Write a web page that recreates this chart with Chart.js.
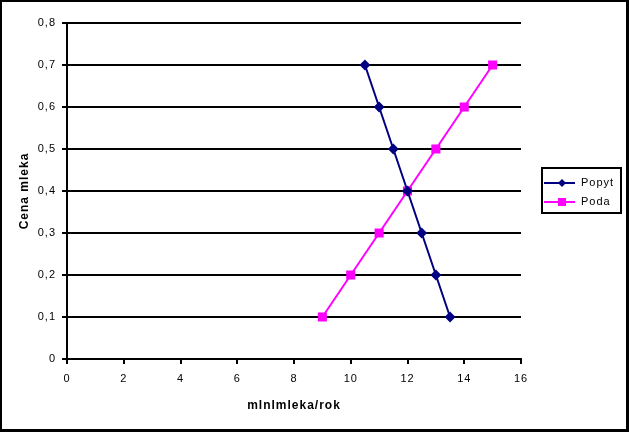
<!DOCTYPE html>
<html>
<head>
<meta charset="utf-8">
<script src="https://cdn.jsdelivr.net/npm/chart.js@4.4.0/dist/chart.umd.min.js"></script>
<style>
  html, body { margin: 0; padding: 0; background: #fff; }
  #wrap { width: 629px; height: 432px; position: relative; }
</style>
</head>
<body>
<div id="wrap"><canvas id="chart" width="629" height="432"></canvas></div>
<script>
// Data
const popytX = [10.5, 11, 11.5, 12, 12.5, 13, 13.5];
const popytY = [0.7, 0.6, 0.5, 0.4, 0.3, 0.2, 0.1];
const podaX = [9, 10, 11, 12, 13, 14, 15];
const podaY = [0.1, 0.2, 0.3, 0.4, 0.5, 0.6, 0.7];
const seriesNames = ['Popyt', 'Poda'];
const xTitle = 'mlnlmleka/rok';
const yTitle = 'Cena mleka';

const NAVY = '#000080';
const MAGENTA = '#FF00FF';
const FONT = 'Liberation Sans, Arial, sans-serif';

const toPoints = (xs, ys) => xs.map((x, i) => ({ x: x, y: ys[i] }));

// Excel text is a bit wider spaced
const spacing = {
    id: 'spacing',
    beforeDraw(chart) {
        chart.ctx.letterSpacing = '1px';
    }
};

// Frame + legend box, Excel style
const excelFrame = {
    id: 'excelFrame',
    afterDraw(chart) {
        const ctx = chart.ctx;
        const w = chart.width, h = chart.height;
        ctx.save();
        ctx.fillStyle = '#000';
        ctx.fillRect(0, 0, w, 2);
        ctx.fillRect(0, 0, 2, h);
        ctx.fillRect(w - 3, 0, 3, h);
        ctx.fillRect(0, h - 3, w, 3);

        // legend
        const lx = 542, ly = 168, lw = 79, lh = 45;
        ctx.lineWidth = 2;
        ctx.strokeStyle = '#000';
        ctx.strokeRect(lx, ly, lw, lh);
        const colors = [NAVY, MAGENTA];
        ctx.font = '11px ' + FONT;
        ctx.letterSpacing = '1px';
        ctx.textBaseline = 'middle';
        seriesNames.forEach((name, i) => {
            const y = ly + 15 + i * 19;
            ctx.strokeStyle = colors[i];
            ctx.lineWidth = 2;
            ctx.beginPath();
            ctx.moveTo(lx + 2, y);
            ctx.lineTo(lx + 33, y);
            ctx.stroke();
            ctx.fillStyle = colors[i];
            const cx = lx + 20;
            if (i === 0) {
                ctx.beginPath();
                ctx.moveTo(cx, y - 4);
                ctx.lineTo(cx + 4, y);
                ctx.lineTo(cx, y + 4);
                ctx.lineTo(cx - 4, y);
                ctx.closePath();
                ctx.fill();
            } else {
                ctx.fillRect(cx - 4, y - 4, 8, 8);
            }
            ctx.fillStyle = '#000';
            ctx.fillText(name, lx + 39, y);
        });
        ctx.restore();
    }
};

new Chart(document.getElementById('chart'), {
    type: 'line',
    data: {
        datasets: [
            {
                label: seriesNames[0],
                data: toPoints(popytX, popytY),
                borderColor: NAVY,
                backgroundColor: NAVY,
                borderWidth: 2,
                pointStyle: 'rectRot',
                pointRadius: 4,
                pointHoverRadius: 4,
                tension: 0
            },
            {
                label: seriesNames[1],
                data: toPoints(podaX, podaY),
                borderColor: MAGENTA,
                backgroundColor: MAGENTA,
                borderWidth: 2,
                pointStyle: 'rect',
                pointRadius: 5,
                pointHoverRadius: 5,
                tension: 0
            }
        ]
    },
    options: {
        responsive: false,
        animation: false,
        devicePixelRatio: 1,
        layout: { padding: { top: 23, right: 108, left: 0, bottom: 0 } },
        plugins: {
            legend: { display: false },
            tooltip: { enabled: false }
        },
        scales: {
            x: {
                type: 'linear',
                min: 0,
                max: 16,
                afterFit: s => { s.height = 73; },
                ticks: {
                    stepSize: 2,
                    color: '#000',
                    padding: 8,
                    font: { family: FONT, size: 11 }
                },
                grid: {
                    drawOnChartArea: false,
                    drawTicks: true,
                    tickLength: 5,
                    color: '#000',
                    lineWidth: 2
                },
                border: { color: '#000', width: 2 },
                title: {
                    display: true,
                    text: xTitle,
                    color: '#000',
                    font: { family: FONT, size: 12, weight: 'bold' },
                    padding: { top: 0, bottom: 19 }
                }
            },
            y: {
                type: 'linear',
                min: 0,
                max: 0.8,
                afterFit: s => { s.width = 67; },
                ticks: {
                    stepSize: 0.1,
                    color: '#000',
                    padding: 6,
                    font: { family: FONT, size: 11 },
                    callback: v => v.toFixed(1).replace('.', ',').replace(/^0,0$/, '0')
                },
                grid: {
                    color: '#000',
                    lineWidth: 2,
                    tickLength: 5
                },
                border: { color: '#000', width: 2 },
                title: {
                    display: true,
                    text: yTitle,
                    color: '#000',
                    font: { family: FONT, size: 12, weight: 'bold' },
                    padding: { top: 17, bottom: 0 }
                }
            }
        }
    },
    plugins: [spacing, excelFrame]
});
</script>
</body>
</html>
